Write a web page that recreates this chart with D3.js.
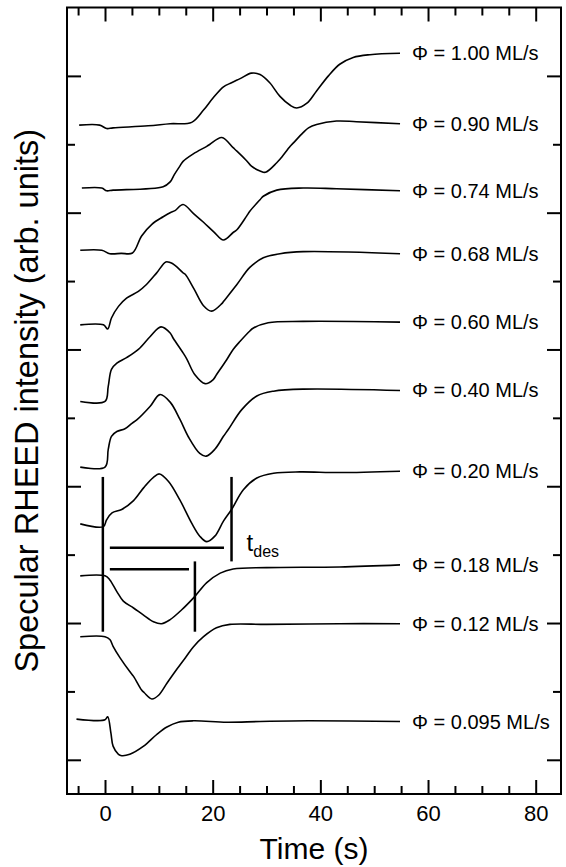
<!DOCTYPE html>
<html>
<head>
<meta charset="utf-8">
<script src="https://cdn.jsdelivr.net/npm/d3@7"></script>
<style>
  html, body { margin: 0; padding: 0; background: #fff; }
  svg { display: block; }
  text { font-family: "Liberation Sans", Arial, Helvetica, sans-serif; fill: #000; }
</style>
</head>
<body>
<svg id="chart" width="566" height="867"></svg>
<script>
// RHEED specular intensity transients for different growth fluxes.
// Each series: [time (s), stacked intensity (arb. units)]
const fluxLabels = ["1.00", "0.90", "0.74", "0.68", "0.60", "0.40", "0.20", "0.18", "0.12", "0.095"];

const flux100 = [[-4.8,9.28],[-1.0,9.28],[0.3,9.23],[1.5,9.24],[8,9.27],[12.1,9.30],[16.1,9.32],[18.3,9.50],[20.1,9.68],[22.0,9.84],[23.5,9.90],[25.1,9.96],[27.2,10.04],[28.8,10.02],[30.6,9.90],[32.5,9.70],[34.4,9.57],[35.6,9.53],[37.5,9.60],[39.3,9.78],[41.5,10.0],[43.6,10.17],[46.1,10.27],[49.2,10.31],[54.8,10.33]];
const flux090 = [[-4.3,8.36],[-0.6,8.36],[0.3,8.32],[1.5,8.33],[10.8,8.38],[12.1,8.45],[12.9,8.56],[13.9,8.68],[14.5,8.75],[16.4,8.86],[18.9,8.97],[19.5,9.00],[21.7,9.10],[23.8,8.95],[24.5,8.90],[26.3,8.76],[27.2,8.68],[28.8,8.61],[29.8,8.59],[31.9,8.73],[32.5,8.78],[34.4,8.97],[35.0,9.02],[36.8,9.17],[37.8,9.24],[39.3,9.29],[43.0,9.34],[46.7,9.33],[54.8,9.30]];
const flux074 = [[-4.6,7.45],[-0.6,7.45],[0.9,7.40],[3.0,7.405],[5.1,7.41],[6.8,7.66],[8.7,7.83],[10.8,7.94],[12.1,8.00],[13.0,8.03],[14.5,8.12],[16.4,7.99],[18.3,7.86],[20.2,7.72],[22.0,7.60],[23.8,7.71],[24.5,7.75],[26.3,7.95],[26.9,8.02],[28.8,8.19],[29.4,8.24],[31.9,8.33],[36.8,8.36],[43.0,8.35],[54.8,8.32]];
const flux068 = [[-4.6,6.36],[-0.3,6.36],[0.5,6.30],[1.2,6.46],[2.5,6.63],[4.0,6.75],[6.2,6.85],[7.7,6.95],[9.6,7.12],[11.3,7.28],[12.1,7.27],[13.0,7.23],[14.5,7.12],[14.9,7.10],[16.5,6.89],[18.3,6.64],[19.8,6.56],[21.7,6.67],[22.0,6.70],[24.5,6.95],[26.9,7.20],[29.4,7.34],[32.5,7.40],[36.8,7.43],[54.8,7.40]];
const flux060 = [[-4.6,5.24],[0,5.24],[0.6,5.46],[1.2,5.71],[2.2,5.80],[4.0,5.88],[6.2,6.0],[8.4,6.19],[10.4,6.33],[12.1,6.24],[12.7,6.16],[14.5,5.95],[15.2,5.86],[16.7,5.63],[18.6,5.50],[20.1,5.56],[20.7,5.63],[22.6,5.85],[23.8,6.0],[25.1,6.12],[26.9,6.27],[27.5,6.31],[30.3,6.39],[36.8,6.41],[54.8,6.40]];
const flux040 = [[-4.6,4.28],[0,4.28],[0.6,4.54],[1.2,4.73],[2.2,4.80],[3.7,4.84],[5.0,4.92],[5.9,4.97],[8.4,5.17],[10.2,5.34],[12.1,5.23],[13.9,4.98],[15.5,4.72],[17.6,4.48],[18.8,4.44],[20.4,4.54],[22.0,4.73],[22.9,4.83],[25.4,5.12],[28.2,5.32],[31.3,5.39],[36.8,5.42],[54.8,5.40]];
const flux020 = [[-4.6,3.45],[-0.3,3.41],[0.3,3.51],[1.3,3.61],[3.1,3.66],[5.3,3.79],[7.2,3.98],[9.0,4.13],[10.1,4.18],[11.8,4.07],[13.9,3.80],[16.1,3.46],[17.6,3.27],[18.9,3.19],[20.4,3.27],[22.0,3.49],[23.5,3.66],[25.7,3.95],[28.2,4.12],[31.3,4.19],[36.2,4.21],[43.6,4.20],[54.8,4.22]];
const flux018 = [[-4.6,2.69],[0,2.69],[0.9,2.63],[2.2,2.46],[3.4,2.32],[5.3,2.22],[7.1,2.12],[9.0,2.02],[10.5,1.99],[12.1,2.05],[14.2,2.19],[16.7,2.39],[18.9,2.59],[21.4,2.73],[23.8,2.79],[30.0,2.81],[43.6,2.82],[54.8,2.85]];
const flux012 = [[-4.6,1.80],[0,1.80],[0.9,1.76],[1.5,1.66],[2.8,1.49],[4.6,1.29],[5.3,1.22],[6.8,1.02],[7.3,0.98],[8.7,0.89],[9.9,0.94],[11.5,1.12],[13.3,1.32],[15.0,1.50],[16.4,1.65],[18.3,1.80],[20.7,1.93],[23.2,1.98],[30.0,1.98],[43.6,1.99],[54.8,1.99]];
const flux0095 = [[-5.3,0.595],[0,0.585],[0.5,0.63],[1.1,0.39],[1.5,0.20],[2.5,0.08],[3.1,0.06],[4.6,0.08],[7.1,0.195],[9.6,0.37],[11.5,0.48],[13.6,0.55],[16.4,0.57],[22.6,0.55],[28.8,0.56],[37.8,0.57],[54.8,0.56]];

const seriesList = [flux100, flux090, flux074, flux068, flux060, flux040, flux020, flux018, flux012, flux0095];

// Desorption-time markers: [t1, v1, t2, v2]
const desMarkers = [
  [-0.4, 4.136, -0.4, 1.873],
  [23.5, 4.136, 23.5, 2.901],
  [0.9, 3.102, 22.1, 3.102],
  [0.9, 2.787, 15.6, 2.787],
  [16.7, 2.901, 16.7, 1.873]
];
const desLabelPos = [26.3, 3.05];

// Axis ticks
const xMajorTicks = [0, 20, 40, 60, 80];
const xMinorTicks = [-5, 5, 10, 15, 25, 30, 35, 45, 50, 55, 65, 70, 75];
const yMajorTicks = [0, 2, 4, 6, 8, 10];
const yMinorTicks = [1, 3, 5, 7, 9];

const svg = d3.select("#chart");
const plotLeft = 67, plotRight = 561, plotTop = 7.5, plotBottom = 794;

const x = d3.scaleLinear().domain([-7.06, 84.7]).range([plotLeft, plotRight]);
const y = d3.scaleLinear().domain([-0.5, 11]).range([plotBottom, plotTop]);

// Axes (ticks pointing inward on all four sides)
function styleAxis(g) {
  g.select(".domain").remove();
  g.selectAll(".tick line").attr("stroke", "#000").attr("stroke-width", 2);
}
svg.append("g").attr("transform", `translate(0,${plotBottom})`)
  .call(d3.axisBottom(x).tickValues(xMajorTicks).tickSize(-14).tickPadding(11).tickFormat(d3.format("d")))
  .call(styleAxis)
  .call(g => g.selectAll("text").attr("font-size", 22).attr("fill", "#000")
    .style("font-family", '"Liberation Sans", Arial, sans-serif'));
svg.append("g").attr("transform", `translate(0,${plotBottom})`)
  .call(d3.axisBottom(x).tickValues(xMinorTicks).tickSize(-8).tickFormat(""))
  .call(styleAxis);
svg.append("g").attr("transform", `translate(0,${plotTop})`)
  .call(d3.axisTop(x).tickValues(xMajorTicks).tickSize(-14).tickFormat(""))
  .call(styleAxis);
svg.append("g").attr("transform", `translate(0,${plotTop})`)
  .call(d3.axisTop(x).tickValues(xMinorTicks).tickSize(-8).tickFormat(""))
  .call(styleAxis);
svg.append("g").attr("transform", `translate(${plotLeft},0)`)
  .call(d3.axisLeft(y).tickValues(yMajorTicks).tickSize(-14).tickFormat(""))
  .call(styleAxis);
svg.append("g").attr("transform", `translate(${plotLeft},0)`)
  .call(d3.axisLeft(y).tickValues(yMinorTicks).tickSize(-8).tickFormat(""))
  .call(styleAxis);
svg.append("g").attr("transform", `translate(${plotRight},0)`)
  .call(d3.axisRight(y).tickValues(yMajorTicks).tickSize(-14).tickFormat(""))
  .call(styleAxis);
svg.append("g").attr("transform", `translate(${plotRight},0)`)
  .call(d3.axisRight(y).tickValues(yMinorTicks).tickSize(-8).tickFormat(""))
  .call(styleAxis);

// Frame
svg.append("rect")
  .attr("x", plotLeft).attr("y", plotTop)
  .attr("width", plotRight - plotLeft).attr("height", plotBottom - plotTop)
  .attr("fill", "none").attr("stroke", "#000").attr("stroke-width", 2);

// Curves
const line = d3.line()
  .x(d => x(d[0]))
  .y(d => y(d[1]))
  .curve(d3.curveCatmullRom.alpha(0.5));

svg.append("g").selectAll("path")
  .data(seriesList)
  .join("path")
  .attr("d", line)
  .attr("fill", "none")
  .attr("stroke", "#000")
  .attr("stroke-width", 1.6)
  .attr("stroke-linejoin", "round");

// Flux labels at the end of each trace
svg.append("g").selectAll("text")
  .data(seriesList)
  .join("text")
  .attr("x", d => x(d[d.length - 1][0]) + 12)
  .attr("y", d => y(d[d.length - 1][1]))
  .attr("dy", "0.35em")
  .attr("font-size", 20)
  .text((d, i) => `\u03A6 = ${fluxLabels[i]} ML/s`);

// Desorption-time markers
svg.append("g").selectAll("line")
  .data(desMarkers)
  .join("line")
  .attr("x1", d => x(d[0])).attr("y1", d => y(d[1]))
  .attr("x2", d => x(d[2])).attr("y2", d => y(d[3]))
  .attr("stroke", "#000").attr("stroke-width", 2.5);

const des = svg.append("text")
  .attr("x", x(desLabelPos[0]))
  .attr("y", y(desLabelPos[1]))
  .attr("font-size", 24);
des.append("tspan").text("t");
des.append("tspan").attr("font-size", 16).attr("dy", 6).text("des");

// Axis titles
svg.append("text")
  .attr("x", (plotLeft + plotRight) / 2)
  .attr("y", 859)
  .attr("text-anchor", "middle")
  .attr("font-size", 30)
  .text("Time (s)");

svg.append("text")
  .attr("transform", `translate(38,${(plotTop + plotBottom) / 2}) rotate(-90)`)
  .attr("text-anchor", "middle")
  .attr("font-size", 32.5)
  .text("Specular RHEED intensity (arb. units)");
</script>
</body>
</html>
